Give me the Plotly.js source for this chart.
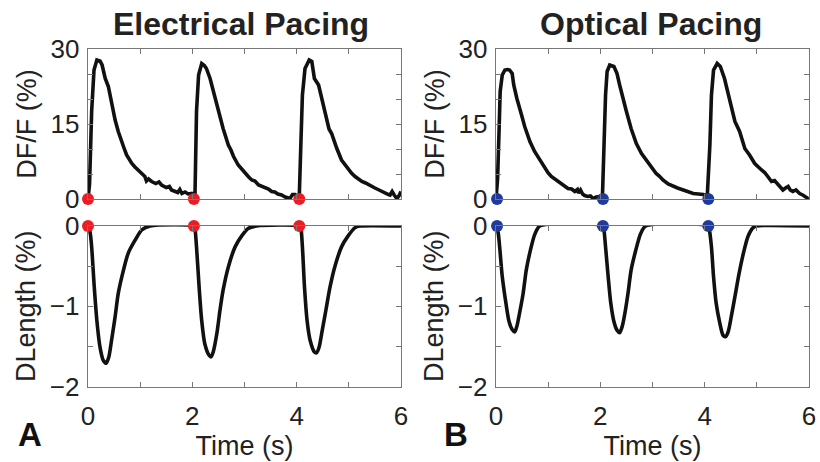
<!DOCTYPE html>
<html>
<head>
<meta charset="utf-8">
<script src="https://cdn.plot.ly/plotly-3.0.1.min.js"></script>
<style>html,body{margin:0;padding:0;background:#fff;}#chart{width:820px;height:462px;}</style>
</head>
<body>
<div id="chart"></div>
<script>
// Electrical pacing: calcium transient (DF/F, %)
var elecDfT = [0,0.03,0.07,0.115,0.17,0.23,0.27,0.30,0.33,0.39,0.45,0.52,0.58,0.65,0.70,0.74,0.80,0.84,0.90,0.96,1.02,1.09,1.12,1.16,1.22,1.30,1.36,1.41,1.50,1.56,1.60,1.66,1.72,1.76,1.80,1.86,1.92,1.99,2.03,
  2.05,2.08,2.12,2.18,2.23,2.27,2.34,2.40,2.47,2.53,2.59,2.64,2.69,2.74,2.79,2.88,2.95,3.01,3.08,3.14,3.20,3.27,3.33,3.40,3.46,3.52,3.58,3.64,3.71,3.78,3.84,3.87,3.92,3.97,4.02,4.05,
  4.08,4.11,4.16,4.24,4.29,4.34,4.42,4.49,4.58,4.62,4.67,4.72,4.77,4.86,4.93,4.99,5.05,5.12,5.18,5.25,5.32,5.38,5.44,5.50,5.56,5.63,5.70,5.76,5.79,5.83,5.87,5.92,5.96,6.0];
var elecDfV = [0,3,17.5,25.8,27.8,27.6,26.8,25.0,24.1,22.5,19.1,15.8,13.5,11.1,9.9,8.8,7.6,7.1,6.4,5.8,5.0,4.5,3.6,4.0,3.5,3.1,3.4,2.8,2.3,2.5,1.8,1.6,1.3,1.9,1.1,1.4,1.0,1.1,0.8,
  0.3,17.5,24.8,27.1,26.7,26.1,24.1,21.5,19.1,16.5,14.1,12.4,10.8,9.8,8.5,6.8,5.9,5.1,4.4,3.8,3.6,2.8,2.5,2.2,2.0,1.5,1.4,1.0,0.8,0.4,0.2,0.1,0.9,0.9,0.5,0.5,
  10.8,20.8,26.1,27.8,27.5,24.1,22.8,19.5,15.5,14.0,13.1,11.5,10.1,7.8,6.8,6.1,5.2,4.5,4.0,3.5,3.2,2.8,2.5,2.2,1.9,1.5,1.2,0.9,0.8,1.5,0.8,0.1,0.6,1.5];

// Electrical pacing: length change (DLength, %)
var elecDlT = [0,0.04,0.07,0.12,0.17,0.23,0.29,0.35,0.40,0.45,0.52,0.58,0.68,0.77,0.90,1.03,1.19,2.03,
  2.05,2.08,2.13,2.18,2.24,2.32,2.36,2.40,2.47,2.53,2.59,2.69,2.82,2.95,3.07,3.23,4.05,
  4.08,4.11,4.15,4.20,4.26,4.34,4.38,4.43,4.49,4.56,4.64,4.73,4.86,4.99,5.12,5.21,6.0];
var elecDlV = [0,-0.08,-0.26,-0.76,-1.18,-1.51,-1.67,-1.71,-1.63,-1.43,-1.13,-0.84,-0.55,-0.34,-0.18,-0.05,0,0,
  -0.03,-0.26,-0.76,-1.18,-1.47,-1.61,-1.63,-1.57,-1.34,-1.05,-0.80,-0.51,-0.26,-0.12,-0.03,0,0,
  -0.03,-0.26,-0.76,-1.18,-1.43,-1.57,-1.58,-1.51,-1.30,-1.05,-0.76,-0.51,-0.26,-0.12,-0.02,0,0];

// Optical pacing: calcium transient (DF/F, %)
var optDfT = [0,0.03,0.06,0.08,0.12,0.17,0.22,0.26,0.31,0.34,0.40,0.45,0.49,0.55,0.60,0.65,0.74,0.84,0.93,1.00,1.06,1.14,1.22,1.30,1.38,1.45,1.51,1.56,1.58,1.62,1.66,1.70,1.76,1.81,1.86,1.92,1.99,2.04,
  2.07,2.10,2.13,2.18,2.26,2.32,2.37,2.43,2.50,2.59,2.69,2.79,2.88,2.98,3.07,3.13,3.20,3.30,3.39,3.48,3.59,3.68,3.78,3.88,3.97,4.05,
  4.10,4.13,4.17,4.24,4.30,4.38,4.45,4.51,4.58,4.67,4.77,4.86,4.96,5.09,5.15,5.21,5.28,5.34,5.41,5.50,5.55,5.60,5.64,5.69,5.75,5.82,5.88,5.93,5.98,6.0];
var optDfV = [0,4,14.1,21.5,24.8,25.8,25.9,25.8,25.1,22.8,20.1,18.5,16.8,14.5,13.0,11.5,9.5,7.8,6.1,5.2,4.5,3.9,3.3,2.6,2.1,2.0,1.5,1.9,1.2,1.8,1.0,0.7,0.5,0.6,0.1,0.4,0.5,0.3,
  10.8,20.8,25.5,26.8,26.5,25.1,22.8,20.1,17.5,14.1,11.1,9.1,7.8,6.5,5.1,4.6,3.8,3.0,2.5,2.2,1.8,1.5,1.1,1.0,0.9,0.6,
  10.8,20.8,25.8,27.1,26.5,24.1,21.1,19.1,15.5,13.5,10.1,8.8,7.1,5.8,5.3,4.5,3.5,3.7,2.8,1.8,2.2,2.5,1.8,1.5,1.8,1.1,0.8,0.5,0.1,0.3];

// Optical pacing: length change (DLength, %)
var optDlT = [0,0.04,0.07,0.12,0.19,0.25,0.31,0.36,0.40,0.45,0.52,0.58,0.66,0.74,0.84,2.05,
  2.07,2.10,2.15,2.20,2.26,2.32,2.37,2.42,2.47,2.53,2.59,2.68,2.77,2.87,4.06,
  4.09,4.13,4.17,4.22,4.29,4.35,4.40,4.45,4.51,4.58,4.66,4.75,4.83,4.93,4.99,6.0];
var optDlV = [0,-0.08,-0.26,-0.63,-0.96,-1.19,-1.29,-1.32,-1.25,-1.09,-0.84,-0.55,-0.30,-0.11,0,0,
  -0.05,-0.26,-0.63,-0.96,-1.19,-1.30,-1.33,-1.25,-1.09,-0.84,-0.55,-0.30,-0.10,0,0,
  -0.05,-0.26,-0.63,-0.96,-1.21,-1.36,-1.38,-1.32,-1.13,-0.88,-0.59,-0.32,-0.13,-0.02,0,0];

// Stimulus markers
var elecStimT = [0, 2.03, 4.05];
var optStimT = [0.02, 2.05, 4.07];
var stimV = [0, 0, 0];

// Tick labels
var xTickVals = [0,1,2,3,4,5,6];
var xTickText = ['0','','2','','4','','6'];
var dfTickVals = [0,5,10,15,20,25,30];
var dfTickText = ['0','','','15','','','30'];
var dlTickVals = [-2,-1.5,-1,-0.5,0];
var dlTickText = ['\u22122','','\u22121','','0'];

var FONT = 'Liberation Sans, Arial, Helvetica, sans-serif';
var LINE = {color:'#111', width:3.6};
var RED = '#ec1c24', BLUE = '#1f3a9a';

function curve(x, y, xa, ya, smooth) {
  return {x:x, y:y, xaxis:xa, yaxis:ya, mode:'lines', line: smooth ? {color:'#111', width:3.6, shape:'spline', smoothing:0.7} : LINE, hoverinfo:'skip', showlegend:false};
}
function dots(x, xa, ya, col) {
  return {x:x, y:stimV, xaxis:xa, yaxis:ya, mode:'markers', marker:{color:col, size:12}, cliponaxis:false, hoverinfo:'skip', showlegend:false};
}

var data = [
  curve(elecDfT, elecDfV, 'x', 'y', false),
  curve(elecDlT, elecDlV, 'x3', 'y3', true),
  curve(optDfT, optDfV, 'x2', 'y2', false),
  curve(optDlT, optDlV, 'x4', 'y4', true),
  dots(elecStimT, 'x', 'y', RED),
  dots(elecStimT, 'x3', 'y3', RED),
  dots(optStimT, 'x2', 'y2', BLUE),
  dots(optStimT, 'x4', 'y4', BLUE)
];

var W = 820, H = 462;
var L1 = [88/W, 401/W], L2 = [496/W, 809/W];
var TOP = [1-199/H, 1-49/H], BOT = [1-386.5/H, 1-226/H];

function xax(dom, anchor, labels) {
  var a = {domain:dom, anchor:anchor, range:[0,6], tickvals:xTickVals, ticktext:xTickText,
    showticklabels:labels, ticks:'inside', ticklen:5, tickcolor:'#777', showline:true, linecolor:'#777',
    linewidth:1.3, mirror:'ticks', showgrid:false, zeroline:false,
    tickfont:{family:FONT, size:26, color:'#222'}, ticklabelstandoff:6};
  if (labels) a.title = {text:'Time (s)', font:{family:FONT, size:27, color:'#222'}, standoff:2};
  return a;
}
function yax(dom, anchor, range, tv, tt, title) {
  return {domain:dom, anchor:anchor, range:range, tickvals:tv, ticktext:tt,
    ticks:'inside', ticklen:5, tickcolor:'#777', showline:true, linecolor:'#777',
    linewidth:1.3, mirror:'ticks', showgrid:false, zeroline:false,
    tickfont:{family:FONT, size:26, color:'#222'}, ticklabelstandoff:2,
    title:{text:title, font:{family:FONT, size:27, color:'#222'}, standoff:6}};
}

var layout = {
  width:W, height:H, margin:{l:0, r:0, t:0, b:0},
  paper_bgcolor:'#fff', plot_bgcolor:'#fff',
  font:{family:FONT, color:'#222'},
  xaxis: xax(L1, 'y', false),
  yaxis: yax(TOP, 'x', [0,30], dfTickVals, dfTickText, 'DF/F (%)'),
  xaxis2: xax(L2, 'y2', false),
  yaxis2: yax(TOP, 'x2', [0,30], dfTickVals, dfTickText, 'DF/F (%)'),
  xaxis3: xax(L1, 'y3', true),
  yaxis3: yax(BOT, 'x3', [-2,0], dlTickVals, dlTickText, 'DLength (%)'),
  xaxis4: xax(L2, 'y4', true),
  yaxis4: yax(BOT, 'x4', [-2,0], dlTickVals, dlTickText, 'DLength (%)'),
  annotations: [
    {text:'<b>Electrical Pacing</b>', x:241/W, y:1-24/H, xref:'paper', yref:'paper', showarrow:false, xanchor:'center', yanchor:'middle', font:{family:FONT, size:32, color:'#222'}},
    {text:'<b>Optical Pacing</b>', x:651/W, y:1-24/H, xref:'paper', yref:'paper', showarrow:false, xanchor:'center', yanchor:'middle', font:{family:FONT, size:32, color:'#222'}},
    {text:'<b>A</b>', x:30/W, y:1-434/H, xref:'paper', yref:'paper', showarrow:false, xanchor:'center', yanchor:'middle', font:{family:FONT, size:33, color:'#111'}},
    {text:'<b>B</b>', x:456/W, y:1-434/H, xref:'paper', yref:'paper', showarrow:false, xanchor:'center', yanchor:'middle', font:{family:FONT, size:33, color:'#111'}}
  ]
};

Plotly.newPlot('chart', data, layout, {staticPlot:true, displayModeBar:false});
</script>
</body>
</html>
